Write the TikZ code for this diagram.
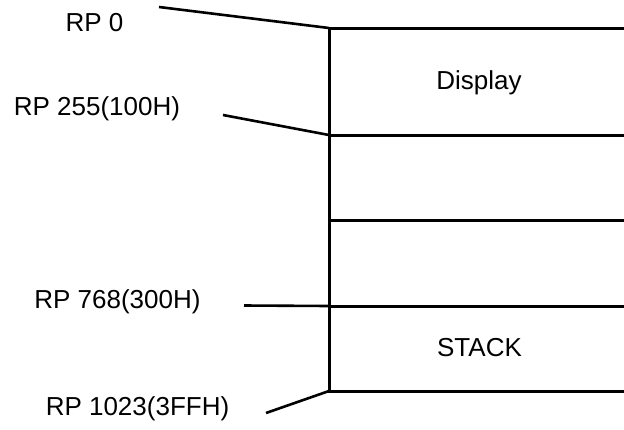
\documentclass[tikz,border=0pt]{standalone}
\usepackage{fontspec}
\setmainfont{Liberation Sans}
\begin{document}
\begin{tikzpicture}[x=1pt,y=-1pt,
  lbl/.style={anchor=base,inner sep=0pt,font=\fontsize{26}{31}\selectfont},
  wall/.style={line width=3pt},
  lead/.style={line width=2.6pt}]
\useasboundingbox (0,0) rectangle (624,429);
% memory map frame
\coordinate (t0) at (329,28);
\coordinate (t1) at (329,135);
\coordinate (t2) at (329,220);
\coordinate (t3) at (329,306);
\coordinate (t4) at (329,391);
\coordinate (r0) at (626,28);
\coordinate (r1) at (626,135);
\coordinate (r2) at (626,220);
\coordinate (r3) at (626,306);
\coordinate (r4) at (626,391);
\draw[wall] ([yshift=1.5pt]t0) -- ([yshift=-1.5pt]t4);
\foreach \i in {0,...,4} \draw[wall] (t\i) -- (r\i);
% block labels
\node[lbl] (disp) at (479,89) {Display};
\node[lbl] (stack) at (479.5,356) {STACK};
% address labels
\node[lbl] (rp0) at (94.5,31) {RP 0};
\node[lbl] (rp255) at (97,115) {RP 255(100H)};
\node[lbl] (rp768) at (117.5,308) {RP 768(300H)};
\node[lbl] (rp1023) at (137.5,415) {RP 1023(3FFH)};
% leader lines
\coordinate (l0) at (159,7);
\coordinate (l1) at (223,115);
\coordinate (l3) at (244,305.5);
\coordinate (l4) at (266,413);
\draw[lead] (l0) -- (t0);
\draw[lead] (l1) -- (t1);
\draw[lead] (l3) -- (t3);
\draw[lead] (l4) -- (t4);
\end{tikzpicture}
\end{document}
